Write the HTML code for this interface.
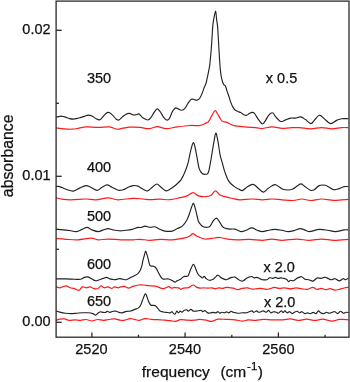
<!DOCTYPE html>
<html><head><meta charset="utf-8"><style>
html,body{margin:0;padding:0;background:#fff;width:350px;height:382px;overflow:hidden;}
svg{display:block;will-change:transform;}
</style></head><body>
<svg width="350" height="382" viewBox="0 0 350 382">
<rect width="350" height="382" fill="#fff"/>
<g font-family='"Liberation Sans", sans-serif' fill="#111" stroke="#111" stroke-width="0.25">
<text x="50.6" y="34.2" font-size="14.5" text-anchor="end" >0.02</text>
<text x="50.6" y="180.3" font-size="14.5" text-anchor="end" >0.01</text>
<text x="50.6" y="326.4" font-size="14.5" text-anchor="end" >0.00</text>
<text x="91.4" y="353.5" font-size="14.5" text-anchor="middle" >2520</text>
<text x="185" y="353.5" font-size="14.5" text-anchor="middle" >2540</text>
<text x="278.4" y="353.5" font-size="14.5" text-anchor="middle" >2560</text>
<text x="86.9" y="83.0" font-size="14.5" text-anchor="start" >350</text>
<text x="86.9" y="172.1" font-size="14.5" text-anchor="start" >400</text>
<text x="86.9" y="221.3" font-size="14.5" text-anchor="start" >500</text>
<text x="86.9" y="268.7" font-size="14.5" text-anchor="start" >600</text>
<text x="86.9" y="305.8" font-size="14.5" text-anchor="start" >650</text>
<text x="265.8" y="83.1" font-size="14.5" text-anchor="start" >x 0.5</text>
<text x="263.5" y="272" font-size="14.5" text-anchor="start" >x 2.0</text>
<text x="264" y="307.4" font-size="14.5" text-anchor="start" >x 2.0</text>
<text x="0" y="0" font-size="15.8" text-anchor="middle" transform="translate(13.2,155.85) rotate(-90)">absorbance</text>
<text x="141.8" y="377.3" font-size="15.5">frequency</text>
<text x="220.4" y="377.3" font-size="15.5">(cm</text>
<text x="247.1" y="370.4" font-size="11.5">-</text>
<text x="251" y="370.4" font-size="11.5">1</text>
<text x="257.7" y="377.3" font-size="15.5">)</text>
</g>
<path d="M56.00,116.50 C56.20,116.57 56.37,116.97 57.20,116.90 C58.03,116.83 59.75,116.10 61.00,116.10 C62.25,116.10 63.25,116.48 64.70,116.90 C66.15,117.32 68.25,118.23 69.70,118.60 C71.15,118.97 72.17,119.13 73.40,119.10 C74.63,119.07 75.85,118.68 77.10,118.40 C78.35,118.12 79.65,117.73 80.90,117.40 C82.15,117.07 83.37,116.78 84.60,116.40 C85.83,116.02 87.07,115.15 88.30,115.10 C89.53,115.05 90.75,115.52 92.00,116.10 C93.25,116.68 94.55,117.97 95.80,118.60 C97.05,119.23 98.47,120.02 99.50,119.90 C100.53,119.78 100.97,118.93 102.00,117.90 C103.03,116.87 104.58,114.62 105.70,113.70 C106.82,112.78 107.60,112.20 108.70,112.40 C109.80,112.60 111.03,113.77 112.30,114.90 C113.57,116.03 115.18,118.35 116.30,119.20 C117.42,120.05 117.98,120.38 119.00,120.00 C120.02,119.62 121.28,117.83 122.40,116.90 C123.52,115.97 124.53,114.98 125.70,114.40 C126.87,113.82 128.17,113.32 129.40,113.40 C130.63,113.48 132.07,114.65 133.10,114.90 C134.13,115.15 134.65,115.07 135.60,114.90 C136.55,114.73 137.98,113.82 138.80,113.90 C139.62,113.98 139.70,114.67 140.50,115.40 C141.30,116.13 142.37,117.53 143.60,118.30 C144.83,119.07 146.72,120.07 147.90,120.00 C149.08,119.93 149.63,119.22 150.70,117.90 C151.77,116.58 153.23,113.60 154.30,112.10 C155.37,110.60 156.15,109.02 157.10,108.90 C158.05,108.78 158.92,110.03 160.00,111.40 C161.08,112.77 162.53,115.67 163.60,117.10 C164.67,118.53 165.45,119.75 166.40,120.00 C167.35,120.25 168.27,120.05 169.30,118.60 C170.33,117.15 171.55,113.08 172.60,111.30 C173.65,109.52 174.60,108.27 175.60,107.90 C176.60,107.53 177.68,108.72 178.60,109.10 C179.52,109.48 180.25,110.12 181.10,110.20 C181.95,110.28 182.90,110.13 183.70,109.60 C184.50,109.07 185.12,108.15 185.90,107.00 C186.68,105.85 187.48,103.98 188.40,102.70 C189.32,101.42 190.47,99.83 191.40,99.30 C192.33,98.77 193.13,99.33 194.00,99.50 C194.87,99.67 195.82,100.33 196.60,100.30 C197.38,100.27 198.10,99.77 198.70,99.30 C199.30,98.83 199.63,98.48 200.20,97.50 C200.77,96.52 201.42,95.10 202.10,93.40 C202.78,91.70 203.63,89.03 204.30,87.30 C204.97,85.57 205.60,84.60 206.10,83.00 C206.60,81.40 206.72,80.50 207.30,77.70 C207.88,74.90 209.08,69.43 209.60,66.20 C210.12,62.97 210.13,61.05 210.40,58.30 C210.67,55.55 210.93,53.07 211.20,49.70 C211.47,46.33 211.75,41.95 212.00,38.10 C212.25,34.25 212.42,29.72 212.70,26.60 C212.98,23.48 213.22,21.99 213.70,19.40 C214.18,16.81 215.12,11.05 215.60,11.05 C216.08,11.05 216.27,16.81 216.60,19.40 C216.93,21.99 217.32,23.48 217.60,26.60 C217.88,29.72 218.07,34.25 218.30,38.10 C218.53,41.95 218.80,46.33 219.00,49.70 C219.20,53.07 219.28,55.07 219.50,58.30 C219.72,61.53 220.00,65.98 220.30,69.10 C220.60,72.22 220.92,74.85 221.30,77.00 C221.68,79.15 222.20,80.75 222.60,82.00 C223.00,83.25 223.22,83.78 223.70,84.50 C224.18,85.22 224.87,84.97 225.50,86.30 C226.13,87.63 226.95,90.88 227.50,92.50 C228.05,94.12 228.27,94.40 228.80,96.00 C229.33,97.60 230.02,100.25 230.70,102.10 C231.38,103.95 232.18,105.78 232.90,107.10 C233.62,108.42 234.17,109.28 235.00,110.00 C235.83,110.72 236.95,110.97 237.90,111.40 C238.85,111.83 239.75,112.07 240.70,112.60 C241.65,113.13 242.65,114.13 243.60,114.60 C244.55,115.07 245.45,115.57 246.40,115.40 C247.35,115.23 248.35,114.10 249.30,113.60 C250.25,113.10 251.27,112.48 252.10,112.40 C252.93,112.32 253.58,112.43 254.30,113.10 C255.02,113.77 255.57,115.13 256.40,116.40 C257.23,117.67 258.30,119.43 259.30,120.70 C260.30,121.97 261.45,123.88 262.40,124.00 C263.35,124.12 264.08,122.67 265.00,121.40 C265.92,120.13 266.95,117.75 267.90,116.40 C268.85,115.05 269.82,113.85 270.70,113.30 C271.58,112.75 272.37,112.50 273.20,113.10 C274.03,113.70 274.53,115.53 275.70,116.90 C276.87,118.27 278.92,120.62 280.20,121.30 C281.48,121.98 282.50,121.23 283.40,121.00 C284.30,120.77 284.40,120.38 285.60,119.90 C286.80,119.42 288.93,118.40 290.60,118.10 C292.27,117.80 293.93,118.30 295.60,118.10 C297.27,117.90 298.95,116.65 300.60,116.90 C302.25,117.15 303.80,118.48 305.50,119.60 C307.20,120.72 309.28,123.53 310.80,123.60 C312.32,123.67 313.18,121.40 314.60,120.00 C316.02,118.60 317.70,115.43 319.30,115.20 C320.90,114.97 322.35,117.20 324.20,118.60 C326.05,120.00 328.33,123.30 330.40,123.60 C332.47,123.90 334.73,121.22 336.60,120.40 C338.47,119.58 339.62,118.98 341.60,118.70 C343.58,118.42 347.35,118.70 348.50,118.70" fill="none" stroke="#222" stroke-width="1.15" stroke-linejoin="round"/>
<path d="M56.00,186.60 C56.62,186.60 58.03,186.15 59.70,186.60 C61.37,187.05 63.72,188.55 66.00,189.30 C68.28,190.05 71.13,191.30 73.40,191.10 C75.67,190.90 77.52,189.02 79.60,188.10 C81.68,187.18 84.03,185.73 85.90,185.60 C87.77,185.47 88.95,186.52 90.80,187.30 C92.65,188.08 95.13,190.30 97.00,190.30 C98.87,190.30 100.33,188.20 102.00,187.30 C103.67,186.40 105.33,184.90 107.00,184.90 C108.67,184.90 110.13,186.40 112.00,187.30 C113.87,188.20 116.33,189.88 118.20,190.30 C120.07,190.72 121.55,190.30 123.20,189.80 C124.85,189.30 126.45,188.00 128.10,187.30 C129.75,186.60 131.43,185.80 133.10,185.60 C134.77,185.40 136.87,185.75 138.10,186.10 C139.33,186.45 139.60,187.15 140.50,187.70 C141.40,188.25 142.33,188.87 143.50,189.40 C144.67,189.93 146.02,191.27 147.50,190.90 C148.98,190.53 150.83,188.35 152.40,187.20 C153.97,186.05 155.45,184.00 156.90,184.00 C158.35,184.00 159.57,186.05 161.10,187.20 C162.63,188.35 164.43,190.68 166.10,190.90 C167.77,191.12 169.43,189.53 171.10,188.50 C172.77,187.47 174.45,186.15 176.10,184.70 C177.75,183.25 179.55,181.87 181.00,179.80 C182.45,177.73 183.60,175.22 184.80,172.30 C186.00,169.38 187.22,165.92 188.20,162.30 C189.18,158.68 189.85,153.88 190.70,150.60 C191.55,147.32 192.55,143.03 193.30,142.60 C194.05,142.17 194.58,145.53 195.20,148.00 C195.82,150.47 196.33,153.97 197.00,157.40 C197.67,160.83 198.33,165.92 199.20,168.60 C200.07,171.28 201.08,172.55 202.20,173.50 C203.32,174.45 204.87,174.50 205.90,174.30 C206.93,174.10 207.57,174.70 208.40,172.30 C209.23,169.90 210.02,164.75 210.90,159.90 C211.78,155.05 212.88,147.65 213.70,143.20 C214.52,138.75 215.10,133.53 215.80,133.20 C216.50,132.87 217.18,137.58 217.90,141.20 C218.62,144.82 219.33,151.15 220.10,154.90 C220.87,158.65 221.68,160.78 222.50,163.70 C223.32,166.62 223.97,169.50 225.00,172.40 C226.03,175.30 227.25,178.82 228.70,181.10 C230.15,183.38 232.03,184.77 233.70,186.10 C235.37,187.43 237.25,188.35 238.70,189.10 C240.15,189.85 240.95,190.98 242.40,190.60 C243.85,190.22 245.75,187.83 247.40,186.80 C249.05,185.77 251.03,184.65 252.30,184.40 C253.57,184.15 253.83,184.48 255.00,185.30 C256.17,186.12 257.87,188.17 259.30,189.30 C260.73,190.43 262.17,192.22 263.60,192.10 C265.03,191.98 266.48,189.67 267.90,188.60 C269.32,187.53 270.80,186.35 272.10,185.70 C273.40,185.05 274.50,184.47 275.70,184.70 C276.90,184.93 278.10,186.33 279.30,187.10 C280.50,187.87 281.47,188.82 282.90,189.30 C284.33,189.78 286.23,190.05 287.90,190.00 C289.57,189.95 291.37,189.65 292.90,189.00 C294.43,188.35 295.75,186.95 297.10,186.10 C298.45,185.25 299.80,183.90 301.00,183.90 C302.20,183.90 302.72,185.03 304.30,186.10 C305.88,187.17 308.85,189.68 310.50,190.30 C312.15,190.92 312.75,190.58 314.20,189.80 C315.65,189.02 317.33,186.35 319.20,185.60 C321.07,184.85 323.73,185.02 325.40,185.30 C327.07,185.58 327.75,186.55 329.20,187.30 C330.65,188.05 332.45,189.58 334.10,189.80 C335.75,190.02 337.43,189.13 339.10,188.60 C340.77,188.07 342.53,186.93 344.10,186.60 C345.67,186.27 347.77,186.60 348.50,186.60" fill="none" stroke="#222" stroke-width="1.15" stroke-linejoin="round"/>
<path d="M56.00,229.10 C57.25,229.23 61.02,229.62 63.50,229.90 C65.98,230.18 68.75,230.52 70.90,230.80 C73.05,231.08 74.53,231.83 76.40,231.60 C78.27,231.37 80.32,230.10 82.10,229.40 C83.88,228.70 85.43,227.32 87.10,227.40 C88.77,227.48 90.23,229.20 92.10,229.90 C93.97,230.60 96.43,231.60 98.30,231.60 C100.17,231.60 101.65,230.40 103.30,229.90 C104.95,229.40 106.55,228.60 108.20,228.60 C109.85,228.60 111.33,229.53 113.20,229.90 C115.07,230.27 117.32,230.73 119.40,230.80 C121.48,230.87 123.62,230.53 125.70,230.30 C127.78,230.07 129.83,229.88 131.90,229.40 C133.97,228.92 136.58,227.72 138.10,227.40 C139.62,227.08 139.85,227.72 141.00,227.50 C142.15,227.28 143.50,226.13 145.00,226.10 C146.50,226.07 148.35,227.18 150.00,227.30 C151.65,227.42 153.25,226.47 154.90,226.80 C156.55,227.13 158.23,228.58 159.90,229.30 C161.57,230.02 162.83,230.80 164.90,231.10 C166.97,231.40 170.23,231.52 172.30,231.10 C174.37,230.68 175.63,229.43 177.30,228.60 C178.97,227.77 180.72,227.50 182.30,226.10 C183.88,224.70 185.60,222.30 186.80,220.20 C188.00,218.10 188.67,215.78 189.50,213.50 C190.33,211.22 191.13,208.20 191.80,206.50 C192.47,204.80 192.92,202.97 193.50,203.30 C194.08,203.63 194.68,206.30 195.30,208.50 C195.92,210.70 196.65,214.30 197.20,216.50 C197.75,218.70 197.97,220.30 198.60,221.70 C199.23,223.10 200.20,224.05 201.00,224.90 C201.80,225.75 202.37,226.40 203.40,226.80 C204.43,227.20 206.08,227.42 207.20,227.30 C208.32,227.18 209.07,227.22 210.10,226.10 C211.13,224.98 212.35,221.93 213.40,220.60 C214.45,219.27 215.45,218.02 216.40,218.10 C217.35,218.18 218.15,219.77 219.10,221.10 C220.05,222.43 221.20,224.95 222.10,226.10 C223.00,227.25 223.18,227.50 224.50,228.00 C225.82,228.50 228.27,228.92 230.00,229.10 C231.73,229.28 233.05,228.68 234.90,229.10 C236.75,229.52 239.23,231.40 241.10,231.60 C242.97,231.80 244.32,230.92 246.10,230.30 C247.88,229.68 249.93,227.90 251.80,227.90 C253.67,227.90 255.55,229.68 257.30,230.30 C259.05,230.92 260.43,231.60 262.30,231.60 C264.17,231.60 266.43,230.67 268.50,230.30 C270.57,229.93 272.42,229.40 274.70,229.40 C276.98,229.40 279.95,229.93 282.20,230.30 C284.45,230.67 286.15,231.57 288.20,231.60 C290.25,231.63 292.52,231.00 294.50,230.50 C296.48,230.00 298.42,228.70 300.10,228.60 C301.78,228.50 303.07,229.40 304.60,229.90 C306.13,230.40 306.87,231.68 309.30,231.60 C311.73,231.52 316.10,229.62 319.20,229.40 C322.30,229.18 325.20,229.93 327.90,230.30 C330.60,230.67 332.70,231.67 335.40,231.60 C338.10,231.53 341.92,230.18 344.10,229.90 C346.28,229.62 347.77,229.90 348.50,229.90" fill="none" stroke="#222" stroke-width="1.15" stroke-linejoin="round"/>
<path d="M56.00,278.90 C57.57,278.90 62.25,278.83 65.40,278.90 C68.55,278.97 72.38,279.23 74.90,279.30 C77.42,279.37 78.93,279.62 80.50,279.30 C82.07,278.98 83.10,277.80 84.30,277.40 C85.50,277.00 86.60,276.73 87.70,276.90 C88.80,277.07 89.58,277.75 90.90,278.40 C92.22,279.05 94.18,280.58 95.60,280.80 C97.02,281.02 98.13,280.10 99.40,279.70 C100.67,279.30 102.00,278.78 103.20,278.40 C104.40,278.02 105.50,277.32 106.60,277.40 C107.70,277.48 108.48,278.52 109.80,278.90 C111.12,279.28 113.08,279.70 114.50,279.70 C115.92,279.70 117.38,279.08 118.30,278.90 C119.22,278.72 119.23,278.53 120.00,278.60 C120.77,278.67 121.83,279.12 122.90,279.30 C123.97,279.48 125.22,279.93 126.40,279.70 C127.58,279.47 128.68,278.57 130.00,277.90 C131.32,277.23 132.98,276.42 134.30,275.70 C135.62,274.98 136.95,274.43 137.90,273.60 C138.85,272.77 139.37,271.90 140.00,270.70 C140.63,269.50 141.22,268.07 141.70,266.40 C142.18,264.73 142.42,262.72 142.90,260.70 C143.38,258.68 144.13,255.92 144.60,254.30 C145.07,252.68 145.32,251.00 145.70,251.00 C146.08,251.00 146.47,252.92 146.90,254.30 C147.33,255.68 147.83,257.52 148.30,259.30 C148.77,261.08 149.18,263.87 149.70,265.00 C150.22,266.13 150.63,265.87 151.40,266.10 C152.17,266.33 153.47,265.98 154.30,266.40 C155.13,266.82 155.68,267.52 156.40,268.60 C157.12,269.68 157.88,271.55 158.60,272.90 C159.32,274.25 159.98,275.68 160.70,276.70 C161.42,277.72 162.07,278.62 162.90,279.00 C163.73,279.38 164.75,279.00 165.70,279.00 C166.65,279.00 167.53,278.77 168.60,279.00 C169.67,279.23 171.03,279.88 172.10,280.40 C173.17,280.92 174.17,282.05 175.00,282.10 C175.83,282.15 176.27,281.12 177.10,280.70 C177.93,280.28 179.17,280.07 180.00,279.60 C180.83,279.13 181.38,278.43 182.10,277.90 C182.82,277.37 183.33,276.70 184.30,276.40 C185.27,276.10 187.07,276.68 187.90,276.10 C188.73,275.52 188.78,274.15 189.30,272.90 C189.82,271.65 190.33,270.03 191.00,268.60 C191.67,267.17 192.63,264.55 193.30,264.30 C193.97,264.05 194.43,265.92 195.00,267.10 C195.57,268.28 196.10,270.08 196.70,271.40 C197.30,272.72 197.93,274.12 198.60,275.00 C199.27,275.88 200.07,276.22 200.70,276.70 C201.33,277.18 201.80,277.95 202.40,277.90 C203.00,277.85 203.62,276.23 204.30,276.40 C204.98,276.57 205.65,278.25 206.50,278.90 C207.35,279.55 208.28,280.23 209.40,280.30 C210.52,280.37 212.18,279.83 213.20,279.30 C214.22,278.77 214.72,277.78 215.50,277.10 C216.28,276.42 217.02,275.15 217.90,275.20 C218.78,275.25 219.85,276.78 220.80,277.40 C221.75,278.02 222.67,278.52 223.60,278.90 C224.53,279.28 225.47,279.78 226.40,279.70 C227.33,279.62 228.25,278.78 229.20,278.40 C230.15,278.02 231.15,277.62 232.10,277.40 C233.05,277.18 233.97,276.85 234.90,277.10 C235.83,277.35 236.75,278.28 237.70,278.90 C238.65,279.52 239.65,280.48 240.60,280.80 C241.55,281.12 242.47,281.20 243.40,280.80 C244.33,280.40 245.25,279.02 246.20,278.40 C247.15,277.78 248.15,277.42 249.10,277.10 C250.05,276.78 251.12,276.38 251.90,276.50 C252.68,276.62 253.02,277.65 253.80,277.80 C254.58,277.95 255.67,277.30 256.60,277.40 C257.53,277.50 258.45,278.02 259.40,278.40 C260.35,278.78 261.07,279.48 262.30,279.70 C263.53,279.92 265.57,280.02 266.80,279.70 C268.03,279.38 268.75,278.02 269.70,277.80 C270.65,277.58 271.57,278.47 272.50,278.40 C273.43,278.33 274.35,277.40 275.30,277.40 C276.25,277.40 277.25,278.33 278.20,278.40 C279.15,278.47 280.07,277.80 281.00,277.80 C281.93,277.80 282.87,278.15 283.80,278.40 C284.73,278.65 285.82,278.77 286.60,279.30 C287.38,279.83 287.87,281.43 288.50,281.60 C289.13,281.77 289.62,280.43 290.40,280.30 C291.18,280.17 292.25,281.03 293.20,280.80 C294.15,280.57 295.15,279.47 296.10,278.90 C297.05,278.33 297.97,277.77 298.90,277.40 C299.83,277.03 300.68,276.40 301.70,276.70 C302.72,277.00 303.85,278.70 305.00,279.20 C306.15,279.70 307.28,279.38 308.60,279.70 C309.92,280.02 311.48,281.38 312.90,281.10 C314.32,280.82 315.68,278.47 317.10,278.00 C318.52,277.53 320.08,278.43 321.40,278.30 C322.72,278.17 323.80,277.13 325.00,277.20 C326.20,277.27 327.53,278.28 328.60,278.70 C329.67,279.12 330.33,279.70 331.40,279.70 C332.47,279.70 333.68,278.50 335.00,278.70 C336.32,278.90 337.98,280.90 339.30,280.90 C340.62,280.90 341.83,278.90 342.90,278.70 C343.97,278.50 344.77,279.82 345.70,279.70 C346.63,279.58 348.03,278.28 348.50,278.00" fill="none" stroke="#222" stroke-width="1.15" stroke-linejoin="round"/>
<path d="M56.00,311.00 C56.63,311.18 58.23,311.73 59.80,312.10 C61.37,312.47 63.52,312.95 65.40,313.20 C67.28,313.45 69.20,313.60 71.10,313.60 C73.00,313.60 74.92,313.33 76.80,313.20 C78.68,313.07 80.52,312.87 82.40,312.80 C84.28,312.73 86.37,312.67 88.10,312.80 C89.83,312.93 91.55,313.22 92.80,313.60 C94.05,313.98 94.65,315.23 95.60,315.10 C96.55,314.97 97.70,313.35 98.50,312.80 C99.30,312.25 99.62,311.87 100.40,311.80 C101.18,311.73 102.32,312.30 103.20,312.40 C104.08,312.50 105.05,312.58 105.70,312.40 C106.35,312.22 106.38,311.30 107.10,311.30 C107.82,311.30 109.00,312.40 110.00,312.40 C111.00,312.40 112.00,311.48 113.10,311.30 C114.20,311.12 115.63,311.12 116.60,311.30 C117.57,311.48 118.17,312.15 118.90,312.40 C119.63,312.65 120.33,312.77 121.00,312.80 C121.67,312.83 122.00,312.83 122.90,312.60 C123.80,312.37 125.10,311.67 126.40,311.40 C127.70,311.13 129.38,311.30 130.70,311.00 C132.02,310.70 132.98,310.12 134.30,309.60 C135.62,309.08 137.53,308.67 138.60,307.90 C139.67,307.13 140.03,306.32 140.70,305.00 C141.37,303.68 141.95,301.67 142.60,300.00 C143.25,298.33 144.08,296.02 144.60,295.00 C145.12,293.98 145.28,293.55 145.70,293.90 C146.12,294.25 146.62,295.85 147.10,297.10 C147.58,298.35 148.00,300.08 148.60,301.40 C149.20,302.72 149.98,304.33 150.70,305.00 C151.42,305.67 152.12,305.28 152.90,305.40 C153.68,305.52 154.65,305.28 155.40,305.70 C156.15,306.12 156.63,307.03 157.40,307.90 C158.17,308.77 159.00,310.22 160.00,310.90 C161.00,311.58 162.12,311.73 163.40,312.00 C164.68,312.27 166.55,312.35 167.70,312.50 C168.85,312.65 169.58,313.03 170.30,312.90 C171.02,312.77 171.48,311.62 172.00,311.70 C172.52,311.78 172.88,313.00 173.40,313.40 C173.92,313.80 174.53,314.48 175.10,314.10 C175.67,313.72 176.23,311.30 176.80,311.10 C177.37,310.90 177.93,312.90 178.50,312.90 C179.07,312.90 179.62,311.20 180.20,311.10 C180.78,311.00 181.37,312.38 182.00,312.30 C182.63,312.22 183.23,311.02 184.00,310.60 C184.77,310.18 185.88,309.72 186.60,309.80 C187.32,309.88 187.58,311.17 188.30,311.10 C189.02,311.03 190.05,309.40 190.90,309.40 C191.75,309.40 192.55,310.82 193.40,311.10 C194.25,311.38 195.13,311.15 196.00,311.10 C196.87,311.05 197.73,310.93 198.60,310.80 C199.47,310.67 200.48,310.15 201.20,310.30 C201.92,310.45 202.28,311.65 202.90,311.70 C203.52,311.75 204.10,310.40 204.90,310.60 C205.70,310.80 206.75,312.52 207.70,312.90 C208.65,313.28 209.70,313.00 210.60,312.90 C211.50,312.80 212.25,312.30 213.10,312.30 C213.95,312.30 214.88,313.00 215.70,312.90 C216.52,312.80 217.30,311.65 218.00,311.70 C218.70,311.75 219.27,313.10 219.90,313.20 C220.53,313.30 221.02,312.37 221.80,312.30 C222.58,312.23 223.82,312.87 224.60,312.80 C225.38,312.73 225.78,311.90 226.50,311.90 C227.22,311.90 228.12,312.90 228.90,312.80 C229.68,312.70 230.50,311.38 231.20,311.30 C231.90,311.22 232.32,312.05 233.10,312.30 C233.88,312.55 234.95,312.65 235.90,312.80 C236.85,312.95 237.70,313.20 238.80,313.20 C239.90,313.20 241.25,312.87 242.50,312.80 C243.75,312.73 245.20,312.98 246.30,312.80 C247.40,312.62 248.15,312.02 249.10,311.70 C250.05,311.38 251.22,310.80 252.00,310.90 C252.78,311.00 253.02,312.30 253.80,312.30 C254.58,312.30 255.90,310.90 256.70,310.90 C257.50,310.90 257.88,312.17 258.60,312.30 C259.32,312.43 260.22,311.93 261.00,311.70 C261.78,311.47 262.45,310.80 263.30,310.90 C264.15,311.00 265.22,312.38 266.10,312.30 C266.98,312.22 267.82,310.32 268.60,310.40 C269.38,310.48 269.95,312.58 270.80,312.80 C271.65,313.02 272.75,311.78 273.70,311.70 C274.65,311.62 275.72,312.05 276.50,312.30 C277.28,312.55 277.62,313.43 278.40,313.20 C279.18,312.97 280.40,311.00 281.20,310.90 C282.00,310.80 282.58,312.60 283.20,312.60 C283.82,312.60 284.23,310.87 284.90,310.90 C285.57,310.93 286.42,312.67 287.20,312.80 C287.98,312.93 288.78,311.57 289.60,311.70 C290.42,311.83 291.32,313.50 292.10,313.60 C292.88,313.70 293.45,312.68 294.30,312.30 C295.15,311.92 296.32,311.22 297.20,311.30 C298.08,311.38 298.82,312.73 299.60,312.80 C300.38,312.87 301.05,311.57 301.90,311.70 C302.75,311.83 303.77,313.42 304.70,313.60 C305.63,313.78 306.55,312.80 307.50,312.80 C308.45,312.80 309.45,313.68 310.40,313.60 C311.35,313.52 312.27,312.30 313.20,312.30 C314.13,312.30 315.12,313.83 316.00,313.60 C316.88,313.37 317.72,311.03 318.50,310.90 C319.28,310.77 319.85,312.35 320.70,312.80 C321.55,313.25 322.65,313.68 323.60,313.60 C324.55,313.52 325.47,312.37 326.40,312.30 C327.33,312.23 328.25,313.20 329.20,313.20 C330.15,313.20 331.15,312.55 332.10,312.30 C333.05,312.05 333.97,311.48 334.90,311.70 C335.83,311.92 336.77,313.67 337.70,313.60 C338.63,313.53 339.55,311.37 340.50,311.30 C341.45,311.23 342.45,313.03 343.40,313.20 C344.35,313.37 345.35,312.40 346.20,312.30 C347.05,312.20 348.12,312.55 348.50,312.60" fill="none" stroke="#222" stroke-width="1.15" stroke-linejoin="round"/>
<path d="M56.00,127.90 C57.33,128.07 61.33,128.68 64.00,128.90 C66.67,129.12 69.50,129.32 72.00,129.20 C74.50,129.08 76.67,128.58 79.00,128.20 C81.33,127.82 82.83,127.03 86.00,126.90 C89.17,126.77 94.08,127.40 98.00,127.40 C101.92,127.40 106.33,126.60 109.50,126.90 C112.67,127.20 114.75,128.98 117.00,129.20 C119.25,129.42 120.93,128.53 123.00,128.20 C125.07,127.87 126.57,127.33 129.40,127.20 C132.23,127.07 136.78,127.15 140.00,127.40 C143.22,127.65 145.80,128.82 148.70,128.70 C151.60,128.58 154.50,126.70 157.40,126.70 C160.30,126.70 162.78,128.67 166.10,128.70 C169.42,128.73 173.35,127.43 177.30,126.90 C181.25,126.37 186.13,125.72 189.80,125.50 C193.47,125.28 196.93,125.85 199.30,125.60 C201.67,125.35 202.72,124.52 204.00,124.00 C205.28,123.48 206.23,122.93 207.00,122.50 C207.77,122.07 207.87,122.42 208.60,121.40 C209.33,120.38 210.58,117.88 211.40,116.40 C212.22,114.92 212.83,113.47 213.50,112.50 C214.17,111.53 214.82,110.52 215.40,110.60 C215.98,110.68 216.47,112.15 217.00,113.00 C217.53,113.85 218.02,114.70 218.60,115.70 C219.18,116.70 219.92,118.10 220.50,119.00 C221.08,119.90 221.52,120.63 222.10,121.10 C222.68,121.57 223.28,121.63 224.00,121.80 C224.72,121.97 225.28,121.68 226.40,122.10 C227.52,122.52 229.38,123.70 230.70,124.30 C232.02,124.90 231.93,125.28 234.30,125.70 C236.67,126.12 241.07,126.45 244.90,126.80 C248.73,127.15 254.40,127.52 257.30,127.80 C260.20,128.08 259.82,128.67 262.30,128.50 C264.78,128.33 268.93,126.82 272.20,126.80 C275.47,126.78 278.93,128.23 281.90,128.40 C284.87,128.57 287.10,127.93 290.00,127.80 C292.90,127.67 295.88,127.43 299.30,127.60 C302.72,127.77 306.77,128.80 310.50,128.80 C314.23,128.80 318.17,127.60 321.70,127.60 C325.23,127.60 328.38,128.80 331.70,128.80 C335.02,128.80 338.80,127.80 341.60,127.60 C344.40,127.40 347.35,127.60 348.50,127.60" fill="none" stroke="#ff1a1a" stroke-width="1.2" stroke-linejoin="round"/>
<path d="M56.00,197.80 C56.83,198.00 58.50,198.67 61.00,199.00 C63.50,199.33 66.83,199.80 71.00,199.80 C75.17,199.80 81.83,199.00 86.00,199.00 C90.17,199.00 92.33,200.00 96.00,199.80 C99.67,199.60 104.33,197.80 108.00,197.80 C111.67,197.80 113.83,199.72 118.00,199.80 C122.17,199.88 128.83,198.43 133.00,198.30 C137.17,198.17 140.17,198.77 143.00,199.00 C145.83,199.23 147.17,199.67 150.00,199.70 C152.83,199.73 156.67,199.20 160.00,199.20 C163.33,199.20 166.67,199.95 170.00,199.70 C173.33,199.45 177.17,198.33 180.00,197.70 C182.83,197.07 184.83,196.73 187.00,195.90 C189.17,195.07 191.08,192.70 193.00,192.70 C194.92,192.70 196.33,195.23 198.50,195.90 C200.67,196.57 203.92,196.82 206.00,196.70 C208.08,196.58 209.43,196.17 211.00,195.20 C212.57,194.23 213.97,190.98 215.40,190.90 C216.83,190.82 218.17,193.78 219.60,194.70 C221.03,195.62 221.87,195.77 224.00,196.40 C226.13,197.03 229.73,197.93 232.40,198.50 C235.07,199.07 236.68,199.72 240.00,199.80 C243.32,199.88 248.58,199.00 252.30,199.00 C256.02,199.00 259.02,199.80 262.30,199.80 C265.58,199.80 268.72,199.00 272.00,199.00 C275.28,199.00 278.50,199.55 282.00,199.80 C285.50,200.05 289.67,200.63 293.00,200.50 C296.33,200.37 299.08,199.00 302.00,199.00 C304.92,199.00 307.22,200.50 310.50,200.50 C313.78,200.50 317.78,199.03 321.70,199.00 C325.62,198.97 329.53,200.25 334.00,200.30 C338.47,200.35 346.08,199.47 348.50,199.30" fill="none" stroke="#ff1a1a" stroke-width="1.2" stroke-linejoin="round"/>
<path d="M56.00,238.60 C57.67,238.72 62.33,239.10 66.00,239.30 C69.67,239.50 73.83,240.00 78.00,239.80 C82.17,239.60 87.67,238.10 91.00,238.10 C94.33,238.10 95.17,239.63 98.00,239.80 C100.83,239.97 104.17,239.10 108.00,239.10 C111.83,239.10 116.83,239.68 121.00,239.80 C125.17,239.92 129.83,239.88 133.00,239.80 C136.17,239.72 137.17,239.22 140.00,239.30 C142.83,239.38 146.67,240.30 150.00,240.30 C153.33,240.30 156.28,239.38 160.00,239.30 C163.72,239.22 168.17,240.05 172.30,239.80 C176.43,239.55 181.88,238.43 184.80,237.80 C187.72,237.17 188.43,236.70 189.80,236.00 C191.17,235.30 191.85,233.60 193.00,233.60 C194.15,233.60 194.75,235.10 196.70,236.00 C198.65,236.90 201.72,238.67 204.70,239.00 C207.68,239.33 212.05,238.25 214.60,238.00 C217.15,237.75 217.85,237.32 220.00,237.50 C222.15,237.68 224.60,238.72 227.50,239.10 C230.40,239.48 233.67,239.77 237.40,239.80 C241.13,239.83 245.75,239.22 249.90,239.30 C254.05,239.38 258.62,240.33 262.30,240.30 C265.98,240.27 268.72,239.10 272.00,239.10 C275.28,239.10 277.83,240.30 282.00,240.30 C286.17,240.30 292.45,239.10 297.00,239.10 C301.55,239.10 305.18,240.30 309.30,240.30 C313.42,240.30 317.57,239.10 321.70,239.10 C325.83,239.10 329.63,240.27 334.10,240.30 C338.57,240.33 346.10,239.47 348.50,239.30" fill="none" stroke="#ff1a1a" stroke-width="1.2" stroke-linejoin="round"/>
<path d="M56.00,286.90 C56.63,287.05 58.70,287.80 59.80,287.80 C60.90,287.80 61.50,287.22 62.60,286.90 C63.70,286.58 65.13,285.75 66.40,285.90 C67.67,286.05 68.95,287.38 70.20,287.80 C71.45,288.22 72.50,287.98 73.90,288.40 C75.30,288.82 77.18,290.55 78.60,290.30 C80.02,290.05 81.13,287.32 82.40,286.90 C83.67,286.48 84.93,287.80 86.20,287.80 C87.47,287.80 88.75,286.80 90.00,286.90 C91.25,287.00 92.45,288.08 93.70,288.40 C94.95,288.72 96.30,289.22 97.50,288.80 C98.70,288.38 99.80,286.07 100.90,285.90 C102.00,285.73 102.93,287.63 104.10,287.80 C105.27,287.97 106.63,286.80 107.90,286.90 C109.17,287.00 110.60,288.40 111.70,288.40 C112.80,288.40 113.40,287.00 114.50,286.90 C115.60,286.80 117.38,287.77 118.30,287.80 C119.22,287.83 119.00,287.33 120.00,287.10 C121.00,286.87 122.87,286.23 124.30,286.40 C125.73,286.57 127.17,288.10 128.60,288.10 C130.03,288.10 131.23,286.92 132.90,286.40 C134.57,285.88 136.70,285.23 138.60,285.00 C140.50,284.77 142.63,284.88 144.30,285.00 C145.97,285.12 146.70,285.52 148.60,285.70 C150.50,285.88 153.32,285.62 155.70,286.10 C158.08,286.58 160.75,288.50 162.90,288.60 C165.05,288.70 167.18,286.78 168.60,286.70 C170.02,286.62 170.45,287.95 171.40,288.10 C172.35,288.25 173.10,287.63 174.30,287.60 C175.50,287.57 177.53,287.62 178.60,287.90 C179.67,288.18 179.87,289.27 180.70,289.30 C181.53,289.33 182.28,288.38 183.60,288.10 C184.92,287.82 186.98,288.12 188.60,287.60 C190.22,287.08 192.00,285.08 193.30,285.00 C194.60,284.92 195.28,286.58 196.40,287.10 C197.52,287.62 198.80,287.97 200.00,288.10 C201.20,288.23 202.28,287.90 203.60,287.90 C204.92,287.90 206.48,288.10 207.90,288.10 C209.32,288.10 210.87,287.78 212.10,287.90 C213.33,288.02 214.17,288.82 215.30,288.80 C216.43,288.78 217.68,287.87 218.90,287.80 C220.12,287.73 221.35,288.47 222.60,288.40 C223.85,288.33 225.13,287.50 226.40,287.40 C227.67,287.30 228.93,287.63 230.20,287.80 C231.47,287.97 232.75,288.08 234.00,288.40 C235.25,288.72 236.40,289.70 237.70,289.70 C239.00,289.70 240.18,288.72 241.80,288.40 C243.42,288.08 245.70,287.68 247.40,287.80 C249.10,287.92 250.57,288.93 252.00,289.10 C253.43,289.27 254.50,288.92 256.00,288.80 C257.50,288.68 259.33,288.30 261.00,288.40 C262.67,288.50 264.55,289.33 266.00,289.40 C267.45,289.47 268.30,289.13 269.70,288.80 C271.10,288.47 272.83,287.47 274.40,287.40 C275.97,287.33 277.37,288.33 279.10,288.40 C280.83,288.47 282.92,287.73 284.80,287.80 C286.68,287.87 288.52,288.80 290.40,288.80 C292.28,288.80 294.22,287.80 296.10,287.80 C297.98,287.80 299.82,288.55 301.70,288.80 C303.58,289.05 305.53,289.55 307.40,289.30 C309.27,289.05 311.28,287.28 312.90,287.30 C314.52,287.32 315.68,289.22 317.10,289.40 C318.52,289.58 319.97,288.35 321.40,288.40 C322.83,288.45 324.27,289.65 325.70,289.70 C327.13,289.75 328.45,288.63 330.00,288.70 C331.55,288.77 333.33,290.03 335.00,290.10 C336.67,290.17 338.45,289.45 340.00,289.10 C341.55,288.75 342.88,288.30 344.30,288.00 C345.72,287.70 347.80,287.42 348.50,287.30" fill="none" stroke="#ff1a1a" stroke-width="1.2" stroke-linejoin="round"/>
<path d="M56.00,320.40 C56.63,320.18 58.38,319.35 59.80,319.10 C61.22,318.85 62.93,318.68 64.50,318.90 C66.07,319.12 67.47,320.25 69.20,320.40 C70.93,320.55 73.02,319.80 74.90,319.80 C76.78,319.80 78.62,320.45 80.50,320.40 C82.38,320.35 84.32,319.40 86.20,319.50 C88.08,319.60 89.92,321.00 91.80,321.00 C93.68,321.00 95.60,319.60 97.50,319.50 C99.40,319.40 101.32,320.40 103.20,320.40 C105.08,320.40 106.92,319.75 108.80,319.50 C110.68,319.25 112.60,318.78 114.50,318.90 C116.40,319.02 118.57,319.97 120.20,320.20 C121.83,320.43 122.67,320.57 124.30,320.30 C125.93,320.03 128.33,318.77 130.00,318.60 C131.67,318.43 132.75,319.00 134.30,319.30 C135.85,319.60 137.52,320.52 139.30,320.40 C141.08,320.28 142.98,318.78 145.00,318.60 C147.02,318.42 149.38,319.12 151.40,319.30 C153.42,319.48 155.18,319.58 157.10,319.70 C159.02,319.82 161.58,319.92 162.90,320.00 C164.22,320.08 163.77,320.10 165.00,320.20 C166.23,320.30 168.57,320.40 170.30,320.60 C172.03,320.80 173.68,321.55 175.40,321.40 C177.12,321.25 178.60,319.90 180.60,319.70 C182.60,319.50 185.12,320.12 187.40,320.20 C189.68,320.28 192.30,320.33 194.30,320.20 C196.30,320.07 197.40,319.40 199.40,319.40 C201.40,319.40 204.28,319.87 206.30,320.20 C208.32,320.53 209.55,321.57 211.50,321.40 C213.45,321.23 215.67,319.53 218.00,319.20 C220.33,318.87 222.67,319.30 225.50,319.40 C228.33,319.50 232.17,319.52 235.00,319.80 C237.83,320.08 240.30,321.10 242.50,321.10 C244.70,321.10 246.00,319.92 248.20,319.80 C250.40,319.68 253.18,320.47 255.70,320.40 C258.22,320.33 260.47,319.50 263.30,319.40 C266.13,319.30 269.42,319.73 272.70,319.80 C275.98,319.87 280.03,319.95 283.00,319.80 C285.97,319.65 287.98,318.80 290.50,318.90 C293.02,319.00 295.42,320.35 298.10,320.40 C300.78,320.45 303.77,319.20 306.60,319.20 C309.43,319.20 312.43,320.40 315.10,320.40 C317.77,320.40 319.77,319.08 322.60,319.20 C325.43,319.32 329.27,321.07 332.10,321.10 C334.93,321.13 336.87,319.62 339.60,319.40 C342.33,319.18 347.02,319.73 348.50,319.80" fill="none" stroke="#ff1a1a" stroke-width="1.2" stroke-linejoin="round"/>
<g stroke="#2a2a2a" stroke-width="1.3" fill="none">
<rect x="56.1" y="1.1" width="292.9" height="336.09999999999997"/>
<line x1="56.1" y1="30.3" x2="61.7" y2="30.3"/>
<line x1="56.1" y1="176.3" x2="61.7" y2="176.3"/>
<line x1="56.1" y1="322.3" x2="61.7" y2="322.3"/>
<line x1="56.1" y1="103.3" x2="59.0" y2="103.3"/>
<line x1="56.1" y1="249.3" x2="59.0" y2="249.3"/>
<line x1="91.9" y1="337.2" x2="91.9" y2="332.4"/>
<line x1="185.1" y1="337.2" x2="185.1" y2="332.4"/>
<line x1="278.4" y1="337.2" x2="278.4" y2="332.4"/>
<line x1="138.5" y1="337.2" x2="138.5" y2="334.7"/>
<line x1="231.8" y1="337.2" x2="231.8" y2="334.7"/>
<line x1="325.1" y1="337.2" x2="325.1" y2="334.7"/>
</g>
</svg>
</body></html>
